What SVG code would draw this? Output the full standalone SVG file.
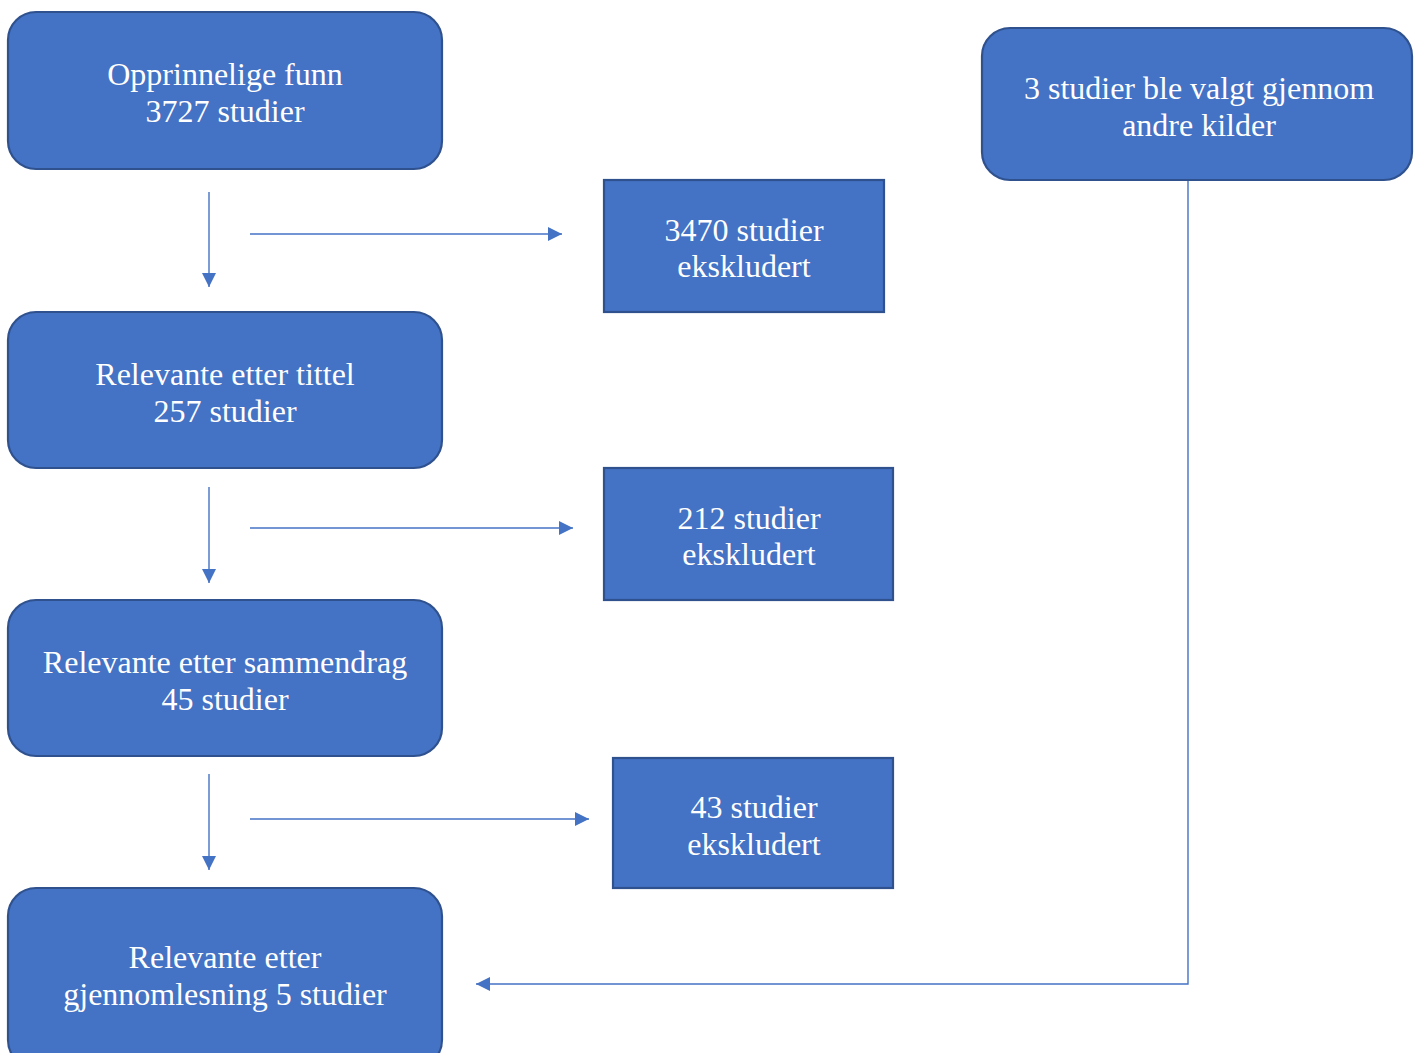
<svg xmlns="http://www.w3.org/2000/svg" width="1414" height="1053" viewBox="0 0 1414 1053">
<style>
.n{fill:#4472C4;stroke:#2F528F;stroke-width:2.2}
.t{font-family:'Liberation Serif','Times New Roman',serif;font-size:32px;fill:#ffffff;text-anchor:middle}
.c{fill:none;stroke:#4472C4;stroke-width:1.4}
</style>
<defs>
<marker id="ah" viewBox="0 0 10 10" refX="10" refY="5" markerWidth="14" markerHeight="14" markerUnits="userSpaceOnUse" orient="auto">
<path d="M0,0 L10,5 L0,10 Z" fill="#4472C4"/>
</marker>
</defs>
<rect width="1414" height="1053" fill="#ffffff"/>
<g id="connectors">
<line class="c" x1="209" y1="192" x2="209" y2="287" marker-end="url(#ah)"/>
<line class="c" x1="250" y1="234" x2="562" y2="234" marker-end="url(#ah)"/>
<line class="c" x1="209" y1="487" x2="209" y2="583" marker-end="url(#ah)"/>
<line class="c" x1="250" y1="528" x2="573" y2="528" marker-end="url(#ah)"/>
<line class="c" x1="209" y1="774" x2="209" y2="870" marker-end="url(#ah)"/>
<line class="c" x1="250" y1="819" x2="589" y2="819" marker-end="url(#ah)"/>
<polyline class="c" points="1188,181 1188,984 476,984" marker-end="url(#ah)"/>
</g>
<g id="n1"><rect class="n" x="8" y="12" width="434" height="157" rx="28"/>
<text class="t" x="225" y="85">Opprinnelige funn</text><text class="t" x="225" y="122">3727 studier</text></g>
<g id="n2"><rect class="n" x="8" y="312" width="434" height="156" rx="28"/>
<text class="t" x="225" y="385">Relevante etter tittel</text><text class="t" x="225" y="422">257 studier</text></g>
<g id="n3"><rect class="n" x="8" y="600" width="434" height="156" rx="28"/>
<text class="t" x="225" y="673">Relevante etter sammendrag</text><text class="t" x="225" y="710">45 studier</text></g>
<g id="n4"><rect class="n" x="8" y="888" width="434" height="180" rx="28"/>
<text class="t" x="225" y="968">Relevante etter</text><text class="t" x="225" y="1005">gjennomlesning 5 studier</text></g>
<g id="n5"><rect class="n" x="982" y="28" width="430" height="152" rx="28"/>
<text class="t" x="1199" y="99">3 studier ble valgt gjennom</text><text class="t" x="1199" y="136">andre kilder</text></g>
<g id="e1"><rect class="n" x="604" y="180" width="280" height="132"/>
<text class="t" x="744" y="241">3470 studier</text><text class="t" x="744" y="277">ekskludert</text></g>
<g id="e2"><rect class="n" x="604" y="468" width="289" height="132"/>
<text class="t" x="749" y="529">212 studier</text><text class="t" x="749" y="565">ekskludert</text></g>
<g id="e3"><rect class="n" x="613" y="758" width="280" height="130"/>
<text class="t" x="754" y="818">43 studier</text><text class="t" x="754" y="855">ekskludert</text></g>
</svg>
